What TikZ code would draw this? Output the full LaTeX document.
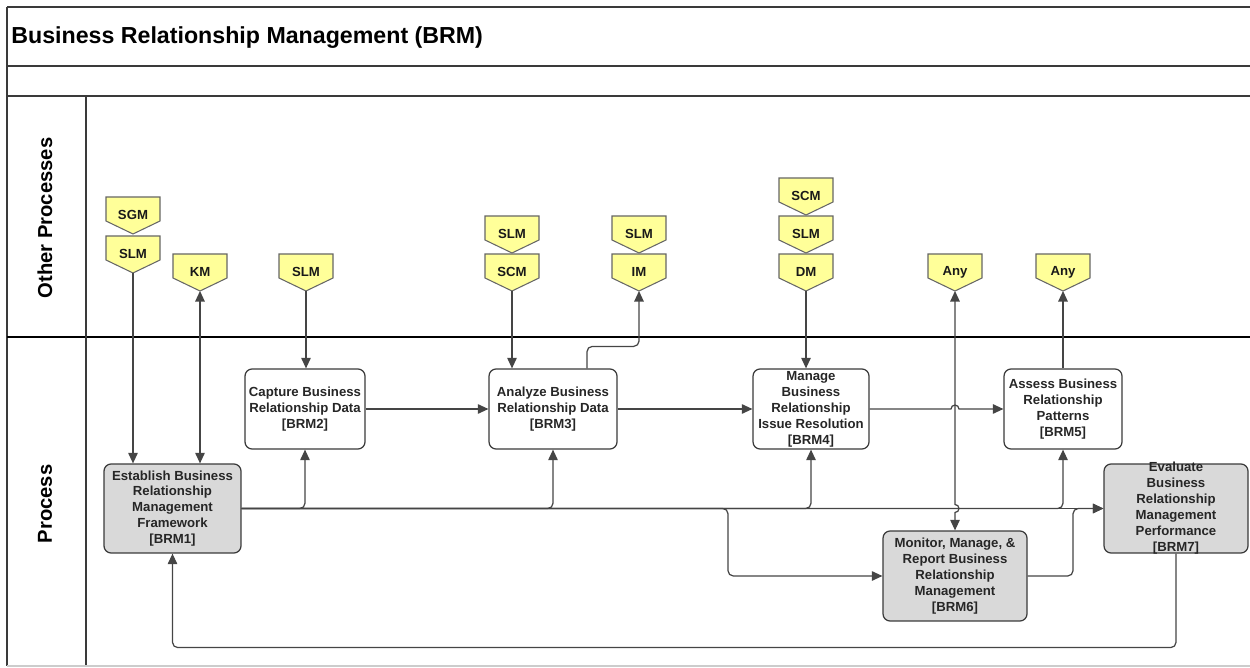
\documentclass[tikz,border=0pt]{standalone}
\usepackage{fontspec}
\setmainfont{Liberation Sans}
\usetikzlibrary{arrows.meta}
\definecolor{tagfill}{HTML}{FFFF99}
\definecolor{boxgray}{HTML}{D9D9D9}
\definecolor{ln}{HTML}{3A3A3A}
\definecolor{cn}{HTML}{454545}
\newcommand{\ptag}[4]{%
  \draw[tagshape] (#2-27,#3) -- (#2+27,#3) -- (#2+27,#3+24) -- (#2,#3+37) -- (#2-27,#3+24) -- cycle;
  \node[tagtext] (#1) at (#2,#3+18) {#4};
  \coordinate (#1-tip) at (#2,#3+37);
}
\begin{document}
\begin{tikzpicture}[x=0.02cm,y=-0.02cm,
  frame/.style={draw=ln, line width=0.9pt},
  conn/.style={draw=cn, line width=0.7pt},
  rc/.style={rounded corners=3pt},
  arr/.style={conn, -{Triangle[length=6pt,width=5.4pt]}},
  darr/.style={conn, {Triangle[length=6pt,width=5.4pt]}-{Triangle[length=6pt,width=5.4pt]}},
  tagshape/.style={draw=black!60, fill=tagfill, line width=0.6pt},
  tagtext/.style={font=\fontsize{7.5}{9}\selectfont\bfseries, inner sep=0pt, text=black!90},
  procbox/.style={draw=ln, line width=0.7pt, rounded corners=4pt, fill=white, inner sep=0pt, align=center, font=\fontsize{7.5}{9.07}\selectfont\bfseries, text=black!85},
  gbox/.style={procbox, fill=boxgray},
]
\useasboundingbox (0,0) rectangle (1250,668);
% frame
\draw[frame, line width=1.3pt] (7,7) -- (1250,7);
\draw[frame] (7,7) -- (7,666);
\draw[frame] (7,66) -- (1250,66);
\draw[frame] (7,96) -- (1250,96);
\draw[draw=black, line width=1pt] (7,337) -- (1250,337);
\draw[draw=ln, line width=0.6pt] (86,96) -- (86,666);
\draw[draw=black!20, line width=0.8pt] (7,666) -- (1250,666);
\node[anchor=base west, inner sep=0pt, font=\fontsize{13.2}{15}\selectfont\bfseries] (title) at (11,44) {Business Relationship Management (BRM)};
\node[rotate=90, inner sep=0pt, font=\fontsize{11.5}{13}\selectfont\bfseries] (lane1) at (45,218) {Other Processes};
\node[rotate=90, inner sep=0pt, font=\fontsize{11.5}{13}\selectfont\bfseries] (lane2) at (45,504) {Process};
% tags
\ptag{sgm}{133}{197}{SGM}
\ptag{slma}{133}{236}{SLM}
\ptag{km}{200}{254}{KM}
\ptag{slmb}{306}{254}{SLM}
\ptag{slmc}{512}{216}{SLM}
\ptag{scma}{512}{254}{SCM}
\ptag{slmd}{639}{216}{SLM}
\ptag{im}{639}{254}{IM}
\ptag{scmb}{806}{178}{SCM}
\ptag{slme}{806}{216}{SLM}
\ptag{dm}{806}{254}{DM}
\ptag{anya}{955}{254}{Any}
\ptag{anyb}{1063}{254}{Any}
% boxes
\node[gbox, minimum width=2.74cm, minimum height=1.78cm] (brm1) at (172.5,508.5) {Establish Business\\Relationship\\Management\\Framework\\{[BRM1]}};
\node[procbox, minimum width=2.40cm, minimum height=1.60cm] (brm2) at (305,409) {Capture Business\\Relationship Data\\{[BRM2]}};
\node[procbox, minimum width=2.56cm, minimum height=1.60cm] (brm3) at (553,409) {Analyze Business\\Relationship Data\\{[BRM3]}};
\node[procbox, minimum width=2.32cm, minimum height=1.60cm] (brm4) at (811,409) {Manage\\Business\\Relationship\\Issue Resolution\\{[BRM4]}};
\node[procbox, minimum width=2.36cm, minimum height=1.60cm] (brm5) at (1063,409) {Assess Business\\Relationship\\Patterns\\{[BRM5]}};
\node[gbox, minimum width=2.88cm, minimum height=1.80cm] (brm6) at (955,576) {Monitor, Manage, \&\\Report Business\\Relationship\\Management\\{[BRM6]}};
\node[gbox, minimum width=2.88cm, minimum height=1.78cm] (brm7) at (1176,508.5) {};
\node[procbox, draw=none, fill=none] (brm7t) at (1176,508) {Evaluate\\Business\\Relationship\\Management\\Performance\\{[BRM7]}};
% connectors from other processes
\draw[arr] (slma-tip) -- (slma-tip |- brm1.north);
\draw[darr] (km-tip) -- (km-tip |- brm1.north);
\draw[arr] (slmb-tip) -- (slmb-tip |- brm2.north);
\draw[arr] (scma-tip) -- (scma-tip |- brm3.north);
\draw[arr, rc] ([xshift=0.68cm]brm3.north) -- ++(0,-22) -| (im-tip);
\draw[arr] (dm-tip) -- (dm-tip |- brm4.north);
\draw[arr] (brm5.north) -- (anyb-tip);
% horizontal flow
\draw[arr] (brm2.east) -- (brm3.west);
\draw[arr] (brm3.east) -- (brm4.west);
\draw[arr] (brm4.east) -- (951,409) arc[start angle=180, end angle=0, radius=2.27pt] -- (brm5.west);
% main line and branches
\draw[arr] (brm1.east) -- (brm7.west);
\draw[arr, rc] (brm1.east) -| (brm2.south);
\draw[arr, rc] (brm1.east) -| (brm3.south);
\draw[arr, rc] (brm1.east) -| (brm4.south);
\draw[arr, rc] (brm1.east) -| (brm5.south);
\draw[arr, rc] (brm1.east) -- (728,508.5) |- (brm6.west);
\draw[arr, rc] (brm6.east) -- (1073,576) |- (brm7.west);
\draw[arr, rc] (brm7.south) -- ++(0,94) -| (brm1.south);
% Any <-> BRM6 with hop over main line
\draw[darr] (anya-tip) -- (955,504.5) arc[start angle=90, end angle=-90, radius=2.27pt] -- (brm6.north);
\end{tikzpicture}
\end{document}
